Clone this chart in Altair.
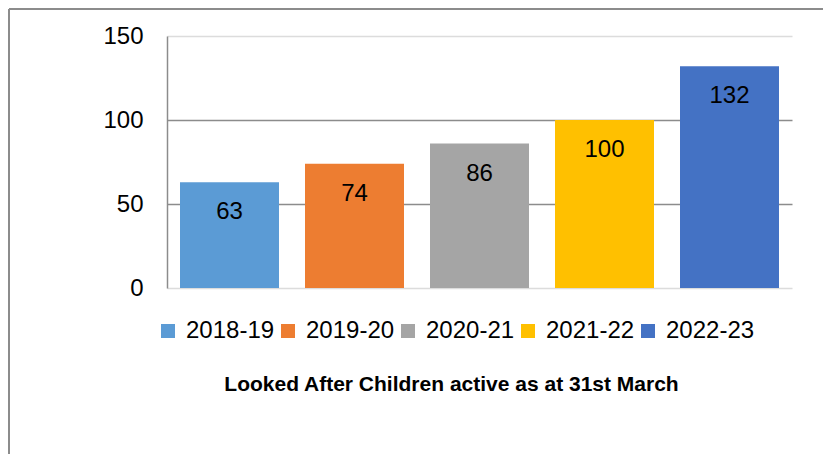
import altair as alt
import pandas as pd

years = ["2018-19", "2019-20", "2020-21", "2021-22", "2022-23"]
counts = [63, 74, 86, 100, 132]
colors = ["#5B9BD5", "#ED7D31", "#A5A5A5", "#FFC000", "#4472C4"]
y_ticks = [0, 50, 100, 150]
title_text = "Looked After Children active as at 31st March"

df = pd.DataFrame({"Year": years, "Count": counts})

FONT = "Liberation Sans"

x_enc = alt.X("Year:N", sort=years, axis=None,
              scale=alt.Scale(paddingInner=0.208, paddingOuter=0.104))

bars = alt.Chart(df).mark_bar().encode(
    x=x_enc,
    y=alt.Y("Count:Q",
            scale=alt.Scale(domain=[0, 150], nice=False),
            axis=alt.Axis(
                values=y_ticks, title=None, ticks=False,
                labelFont=FONT, labelFontSize=24, labelColor="#000000",
                labelPadding=24,
                domainColor="#8c8c8c", domainWidth=1.5,
                grid=True,
                gridColor={"condition": {"test": "datum.value === 0 || datum.value === 150", "value": "#dcdcdc"}, "value": "#8c8c8c"},
                gridWidth=1.5,
            )),
    color=alt.Color("Year:N", sort=years,
                    scale=alt.Scale(domain=years, range=colors),
                    legend=alt.Legend(
                        title=None, orient="none", direction="horizontal", columns=5,
                        legendX=-11, legendY=283,
                        symbolType="square", symbolSize=196, symbolStrokeWidth=0,
                        symbolOpacity=1,
                        labelFont=FONT, labelFontSize=24, labelColor="#000000",
                        labelOffset=6, columnPadding=1, padding=0,
                    )),
)

labels = alt.Chart(df).mark_text(
    baseline="middle", align="center", dy=30,
    font=FONT, fontSize=24, color="#000000",
).encode(
    x=x_enc,
    y=alt.Y("Count:Q"),
    text=alt.Text("Count:Q"),
)

frame_left = alt.Chart(df).mark_rule(color="#8c8c8c", strokeWidth=1.5).encode(
    x=alt.value(-158), y=alt.value(-27), y2=alt.value(420))
frame_top = alt.Chart(df).mark_rule(color="#8c8c8c", strokeWidth=1.5).encode(
    x=alt.value(-158), x2=alt.value(660), y=alt.value(-27))

chart = alt.layer(bars, labels, frame_left, frame_top).properties(
    width=625, height=252,
    autosize=alt.AutoSizeParams(type="none"),
    padding={"left": 159, "top": 28, "right": 31, "bottom": 166},
    title=alt.TitleParams(title_text, orient="bottom", anchor="middle", dx=-28,
                          offset=-83, font=FONT, fontSize=21, fontWeight="bold",
                          color="#000000"),
).configure_view(stroke=None)

chart.save("out.html", embed_options={"renderer": "svg", "actions": False})
